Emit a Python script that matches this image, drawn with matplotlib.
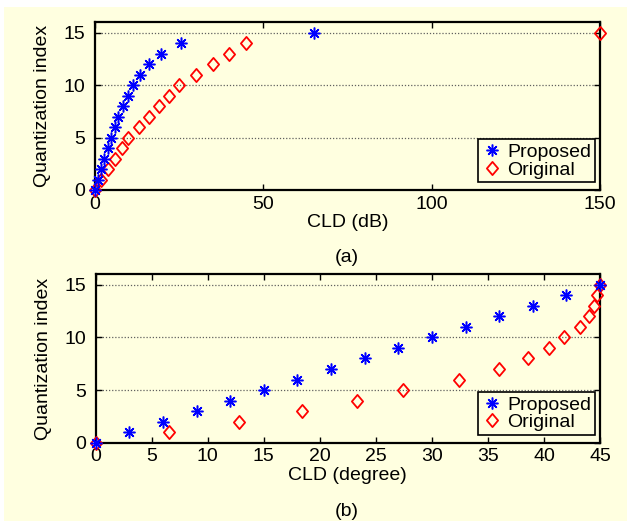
import numpy as np
import matplotlib
matplotlib.use("Agg")
import matplotlib.pyplot as plt
from matplotlib.path import Path
from matplotlib.patches import Rectangle

plt.rcParams["font.family"] = ["Liberation Sans", "DejaVu Sans"]

BG = "#FFFFE0"

# quantization index 0..15
index = list(range(16))

# (a) CLD in dB
proposed_db = [0, 0.9, 1.8, 2.8, 3.8, 4.8, 5.9, 7.0, 8.3, 9.8, 11.4, 13.5, 16.0, 19.6, 25.6, 65]
original_db = [0, 2, 4, 6, 8, 10, 13, 16, 19, 22, 25, 30, 35, 40, 45, 150]

# (b) CLD in degrees
proposed_deg = [0, 3, 6, 9, 12, 15, 18, 21, 24, 27, 30, 33, 36, 39, 42, 45]
original_deg = [0, 6.55, 12.75, 18.4, 23.3, 27.45, 32.4, 36.0, 38.6, 40.45,
                41.8, 43.2, 44.0, 44.45, 44.7, 45]

xticks_a = [0, 50, 100, 150]
xticks_b = [0, 5, 10, 15, 20, 25, 30, 35, 40, 45]
yticks = [0, 5, 10, 15]

# diamond a bit taller than wide, like the matlab one
diamond = Path([(0, 1), (0.85, 0), (0, -1), (-0.85, 0), (0, 1)],
               [Path.MOVETO, Path.LINETO, Path.LINETO, Path.LINETO, Path.CLOSEPOLY])

fig = plt.figure(figsize=(6.31, 5.25), dpi=100)
fig.patch.set_facecolor("white")
fig.patches.append(Rectangle((4 / 631, 4 / 525), 623 / 631, 514 / 525,
                             transform=fig.transFigure, facecolor=BG,
                             edgecolor="none", zorder=-10))


def panel(rect, xs_prop, xs_orig, xlim, xticks, xlabel, tag, tag_y):
    ax = fig.add_axes(rect)
    ax.set_facecolor(BG)
    for y in yticks[1:]:
        ax.axhline(y, color="#606060", lw=0.9, ls=(0, (1, 1.5)), zorder=1)
    ax.plot(xs_prop, index, ls="none", marker=(8, 2, 0), ms=8.5, mew=1.1,
            color="#0000FF", label="Proposed", clip_on=False, zorder=4)
    ax.plot(xs_orig, index, ls="none", marker=diamond, ms=9.5, mew=1.3,
            mfc="none", mec="#FF0000", label="Original", clip_on=False, zorder=3)
    ax.set_xlim(*xlim)
    ax.set_ylim(0, 16)
    ax.set_xticks(xticks)
    ax.set_yticks(yticks)
    ax.tick_params(direction="in", top=True, right=True, length=4, width=1,
                   labelsize=14, pad=4)
    ax.tick_params(axis="y", pad=7)
    for s in ax.spines.values():
        s.set_linewidth(1.6)
    ax.set_xlabel(xlabel, fontsize=14, labelpad=1)
    ax.set_ylabel("Quantization index", fontsize=14, labelpad=9)
    leg = ax.legend(loc="lower right", bbox_to_anchor=(0.99, 0.045), fontsize=14,
                    frameon=True, fancybox=False, framealpha=1, facecolor=BG,
                    edgecolor="black", handlelength=1.0, handletextpad=0.3,
                    labelspacing=0.0, borderpad=0.2, borderaxespad=0)
    leg.get_frame().set_linewidth(1.2)
    fig.text(0.55, tag_y, tag, ha="center", va="center", fontsize=14)
    return ax


panel([0.1501, 0.6381, 0.8008, 0.3194], proposed_db, original_db, (0, 150),
      xticks_a, "CLD (dB)", "(a)", 1 - 257 / 525)
panel([0.1517, 0.1568, 0.7992, 0.3207], proposed_deg, original_deg, (0, 45),
      xticks_b, "CLD (degree)", "(b)", 1 - 512 / 525)

fig.savefig("out.png", dpi=100, facecolor=fig.get_facecolor())
